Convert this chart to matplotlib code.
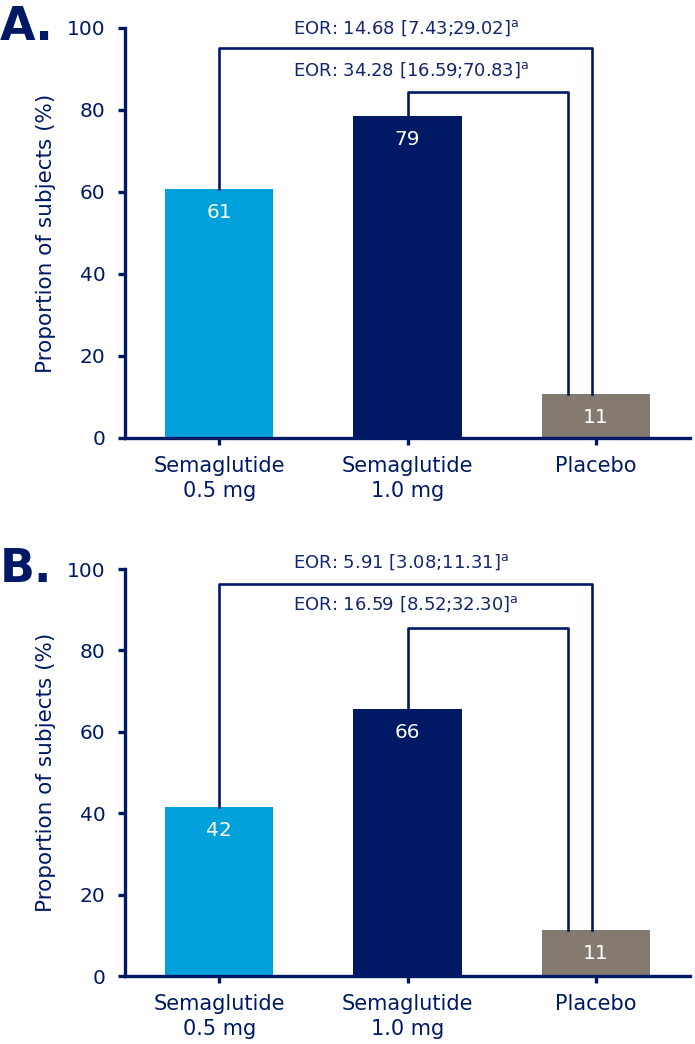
import matplotlib.pyplot as plt

# datos
groups = ['Semaglutide\n0.5 mg', 'Semaglutide\n1.0 mg', 'Placebo']
pct_a = [60.7, 78.5, 10.7]
pct_b = [41.5, 65.6, 11.3]
labels_a = ['61', '79', '11']
labels_b = ['42', '66', '11']
eor_a = ['EOR: 14.68 [7.43;29.02]', 'EOR: 34.28 [16.59;70.83]']
eor_b = ['EOR: 5.91 [3.08;11.31]', 'EOR: 16.59 [8.52;32.30]']
brackets_a = [95.1, 84.4]
brackets_b = [96.3, 85.5]
text_y_a = [100.0, 89.8]
text_y_b = [101.7, 91.4]

NAVY = '#001965'
colors = ['#00A0DA', NAVY, '#857A70']


def draw_panel(ax, values, labels, eor, tops, text_y, tag):
    x = range(len(values))
    ax.bar(x, values, width=0.575, color=colors, zorder=2)

    # etiquetas dentro de las barras
    for xi, v, lab in zip(x, values, labels):
        ax.annotate(lab, (xi, v), xytext=(0, -17), textcoords='offset points',
                    ha='center', va='center', color='white', fontsize=14.5)

    # corchetes de comparacion
    ax.plot([0, 0, 1.98, 1.98], [values[0], tops[0], tops[0], values[2]],
            color=NAVY, lw=1.9, clip_on=False, zorder=3)
    ax.plot([1, 1, 1.85, 1.85], [values[1], tops[1], tops[1], values[2]],
            color=NAVY, lw=1.9, clip_on=False, zorder=3)
    for txt, ty in zip(eor, text_y):
        ax.text(0.39, ty, txt + r'$^\mathrm{a}$', ha='left', va='center',
                color='#14276E', fontsize=13, clip_on=False)

    ax.set_xlim(-0.5, 2.5)
    ax.set_ylim(0, 100)
    ax.set_yticks([0, 20, 40, 60, 80, 100])
    ax.set_xticks(list(x))
    ax.set_xticklabels(groups, linespacing=1.3)
    ax.set_ylabel('Proportion of subjects (%)', color=NAVY, fontsize=15.5, labelpad=8)

    for s in ['top', 'right']:
        ax.spines[s].set_visible(False)
    for s in ['left', 'bottom']:
        ax.spines[s].set_color(NAVY)
        ax.spines[s].set_linewidth(2.4)
    ax.tick_params(axis='both', colors=NAVY, width=2.4, length=5, labelsize=14.5)
    ax.tick_params(axis='x', labelsize=15, pad=8)
    ax.tick_params(axis='y', pad=9)

    ax.text(-0.222, 1.0, tag, transform=ax.transAxes, fontsize=33,
            fontweight='bold', color=NAVY, ha='left', va='center')


fig = plt.figure(figsize=(6.95, 10.44), dpi=100)
ax_a = fig.add_axes([0.1799, 0.5805, 0.8129, 0.3927])
ax_b = fig.add_axes([0.1799, 0.0651, 0.8129, 0.3898])

draw_panel(ax_a, pct_a, labels_a, eor_a, brackets_a, text_y_a, 'A.')
draw_panel(ax_b, pct_b, labels_b, eor_b, brackets_b, text_y_b, 'B.')

fig.savefig('out.png', dpi=100)
